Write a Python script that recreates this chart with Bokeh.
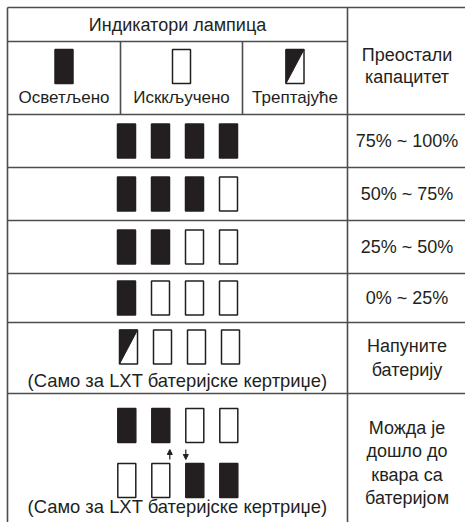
from bokeh.plotting import figure
from bokeh.models import Range1d, ColumnDataSource, Arrow, NormalHead
from bokeh.core.properties import value
from bokeh.embed import file_html
from bokeh.resources import INLINE

# ---------------- data ----------------
header_title = "Индикатори лампица"
legend_labels = ["Осветљено", "Исккључено", "Трептајуће"]
legend_states = ["on", "off", "blink"]
capacity_header = ["Преостали", "капацитет"]
row_patterns = [
    [["on", "on", "on", "on"]],
    [["on", "on", "on", "off"]],
    [["on", "on", "off", "off"]],
    [["on", "off", "off", "off"]],
    [["blink", "off", "off", "off"]],
    [["on", "on", "off", "off"], ["off", "off", "on", "on"]],
]
capacity_labels = [
    ["75% ~ 100%"],
    ["50% ~ 75%"],
    ["25% ~ 50%"],
    ["0% ~ 25%"],
    ["Напуните", "батерију"],
    ["Можда је", "дошло до", "квара са", "батеријом"],
]
row_notes = ["", "", "", "", "(Само за LXT батеријске кертриџе)",
             "(Само за LXT батеријске кертриџе)"]

# ---------------- layout ----------------
FONT = value("Liberation Sans")
INK = "#231f20"
GRID = "#4d4d4d"
XL, XD, XR = 7, 347, 466
SUB = [XL, 120, 242, XD]
YT, YH1, YH2 = 7, 41, 114
row_edges = [114, 167, 220, 273, 322, 393, 532]
LW, LH, PITCH, X1 = 18, 34, 34, 126

p = figure(width=465, height=522, x_range=Range1d(0, 465), y_range=Range1d(522, 0),
           output_backend="svg", toolbar_location=None, min_border=0,
           x_axis_location=None, y_axis_location=None, outline_line_color=None)
p.grid.visible = False
p.background_fill_color = "white"

# grid lines
hx0, hx1, hy = [], [], []
for y in [YT] + row_edges[:-1]:
    hx0.append(XL); hx1.append(XR); hy.append(y)
hx0.append(XL); hx1.append(XD); hy.append(YH1)
p.segment(x0=hx0, x1=hx1, y0=hy, y1=hy, line_color=GRID, line_width=1.6)
vx = [XL, XD, SUB[1], SUB[2]]
vy0 = [YT, YT, YH1, YH1]
vy1 = [row_edges[-1], row_edges[-1], YH2, YH2]
p.segment(x0=vx, x1=vx, y0=vy0, y1=vy1, line_color=GRID, line_width=1.6)

# collect lamps
lamps = {"x": [], "y": [], "state": []}
def add_lamp(x, y, s):
    lamps["x"].append(x); lamps["y"].append(y); lamps["state"].append(s)

for i, s in enumerate(legend_states):
    add_lamp((SUB[i] + SUB[i + 1]) / 2, 66, s)

lamp_rows_y = []
for r, pats in enumerate(row_patterns):
    top, bot = row_edges[r], row_edges[r + 1]
    if len(pats) == 1 and not row_notes[r]:
        ys = [(top + bot) / 2]
        shift = 0
    elif len(pats) == 1:
        ys = [top + 24.5]
        shift = 2
    else:
        ys = [top + 32, top + 87]
        shift = 0.3
    for pat, y in zip(pats, ys):
        for k, s in enumerate(pat):
            add_lamp(X1 + shift + PITCH * k, y, s)
    lamp_rows_y.append(ys)

left = [x - LW / 2 for x in lamps["x"]]
right = [x + LW / 2 for x in lamps["x"]]
top_ = [y - LH / 2 for y in lamps["y"]]
bot_ = [y + LH / 2 for y in lamps["y"]]
fills = [INK if s == "on" else "white" for s in lamps["state"]]
src = ColumnDataSource(dict(left=left, right=right, top=top_, bottom=bot_, fill=fills))
p.quad(left="left", right="right", top="top", bottom="bottom", source=src,
       fill_color="fill", line_color=INK, line_width=1.5)

# blinking halves
tx, ty = [], []
for l, r_, t, b, s in zip(left, right, top_, bot_, lamps["state"]):
    if s == "blink":
        tx.append([l, r_, l]); ty.append([t, t, b])
p.patches(xs=tx, ys=ty, fill_color=INK, line_color=INK, line_width=1)

# arrows in last row
yA = lamp_rows_y[-1]
mid_gap_top = yA[0] + LH / 2 + 9
mid_gap_bot = yA[1] - LH / 2 - 4
xa_up = X1 + PITCH * 1 + LW / 2 + 0.3
xa_dn = X1 + PITCH * 2 - LW / 2 + 0.3
p.add_layout(Arrow(end=NormalHead(size=5, fill_color=INK, line_color=INK, line_width=1),
                   x_start=xa_up, y_start=mid_gap_bot, x_end=xa_up, y_end=mid_gap_top - 2,
                   line_color=INK, line_width=1.2))
p.add_layout(Arrow(end=NormalHead(size=5, fill_color=INK, line_color=INK, line_width=1),
                   x_start=xa_dn, y_start=mid_gap_top - 2, x_end=xa_dn, y_end=mid_gap_bot,
                   line_color=INK, line_width=1.2))

# texts
T = {"x": [], "y": [], "t": [], "fs": []}
def add_text(x, y, t, fs="18px"):
    T["x"].append(x); T["y"].append(y); T["t"].append(t); T["fs"].append(fs)

add_text((XL + XD) / 2, 24, header_title)
for i, lab in enumerate(legend_labels):
    add_text((SUB[i] + SUB[i + 1]) / 2, 97, lab, "17px")
RC = (XD + XR) / 2
for j, line in enumerate(capacity_header):
    add_text(RC, 65 + 22 * (j - 0.5), line)
for r, lines in enumerate(capacity_labels):
    cy = (row_edges[r] + row_edges[r + 1]) / 2
    n = len(lines)
    for j, line in enumerate(lines):
        add_text(RC, cy + 23.3 * (j - (n - 1) / 2), line)
    if row_notes[r]:
        add_text((XL + XD) / 2, lamp_rows_y[r][-1] + LH / 2 + (16 if len(row_patterns[r]) == 1 else 9),
                 row_notes[r], "18.4px")

for fs in sorted(set(T["fs"])):
    idx = [i for i, f in enumerate(T["fs"]) if f == fs]
    p.text(x=[T["x"][i] for i in idx], y=[T["y"][i] for i in idx],
           text=[T["t"][i] for i in idx], text_align="center", text_baseline="middle",
           text_font=FONT, text_font_size=fs, text_color=INK)

open("out.html", "w").write(file_html(p, INLINE))
